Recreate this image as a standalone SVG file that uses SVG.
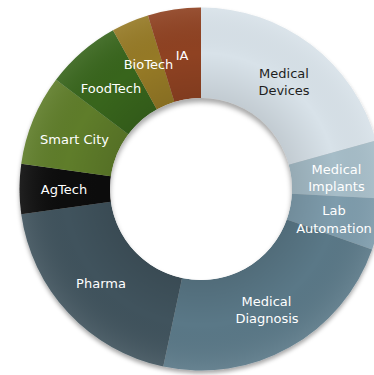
<svg xmlns="http://www.w3.org/2000/svg" width="374" height="375" viewBox="0 0 374 375">
<defs>
<style>
text{font-family:"DejaVu Sans","Liberation Sans",sans-serif;font-size:13px;text-anchor:middle;fill:#ffffff}
.dark{fill:#1e1e1e}
</style>
<filter id="drop" x="-10%" y="-10%" width="120%" height="125%">
<feDropShadow dx="0" dy="3" stdDeviation="2" flood-color="#000" flood-opacity="0.35"/>
</filter>
<filter id="blur"><feGaussianBlur stdDeviation="2.5"/></filter>
<clipPath id="hole"><circle cx="201" cy="189" r="91"/></clipPath>
<radialGradient id="shade" cx="201" cy="189" r="181.5" gradientUnits="userSpaceOnUse">
<stop offset="0.5" stop-color="#000" stop-opacity="0.10"/>
<stop offset="0.75" stop-color="#000" stop-opacity="0"/>
<stop offset="1" stop-color="#fff" stop-opacity="0.08"/>
</radialGradient>
</defs>
<rect width="374" height="375" fill="#ffffff"/>
<g filter="url(#drop)">
<path d="M201,7.5 A181.5,181.5 0 0 1 375.90,140.50 L288.69,164.68 A91,91 0 0 0 201,98 Z" fill="#d8e2e9"/>
<path d="M375.90,140.50 A181.5,181.5 0 0 1 382.25,198.50 L291.88,193.76 A91,91 0 0 0 288.69,164.68 Z" fill="#a6bdc8"/>
<path d="M382.25,198.50 A181.5,181.5 0 0 1 372.09,249.59 L286.78,219.38 A91,91 0 0 0 291.88,193.76 Z" fill="#7e9cac"/>
<path d="M372.09,249.59 A181.5,181.5 0 0 1 163.26,366.53 L182.08,278.01 A91,91 0 0 0 286.78,219.38 Z" fill="#5a7887"/>
<path d="M163.26,366.53 A181.5,181.5 0 0 1 21.27,214.26 L110.89,201.66 A91,91 0 0 0 182.08,278.01 Z" fill="#3f535d"/>
<path d="M21.27,214.26 A181.5,181.5 0 0 1 21.27,163.74 L110.89,176.34 A91,91 0 0 0 110.89,201.66 Z" fill="#111111"/>
<path d="M21.27,163.74 A181.5,181.5 0 0 1 56.05,79.77 L128.32,134.23 A91,91 0 0 0 110.89,176.34 Z" fill="#5e7d2a"/>
<path d="M56.05,79.77 A181.5,181.5 0 0 1 113.01,30.26 L156.88,109.41 A91,91 0 0 0 128.32,134.23 Z" fill="#37651f"/>
<path d="M113.01,30.26 A181.5,181.5 0 0 1 147.93,15.43 L174.39,101.98 A91,91 0 0 0 156.88,109.41 Z" fill="#967a26"/>
<path d="M147.93,15.43 A181.5,181.5 0 0 1 201,7.5 L201,98 A91,91 0 0 0 174.39,101.98 Z" fill="#8f4320"/>
</g>
<path d="M201,7.5 A181.5,181.5 0 1 1 200.99,7.5 Z M201,98 A91,91 0 1 0 201.01,98 Z" fill="url(#shade)" fill-rule="evenodd"/>
<circle cx="201" cy="189" r="91" fill="#ffffff"/>
<g clip-path="url(#hole)">
<circle cx="201" cy="193" r="95" fill="none" stroke="#000" stroke-opacity="0.35" stroke-width="8" filter="url(#blur)"/>
</g>
<g id="medical-devices"><text class="dark" x="284" y="77.5">Medical</text><text class="dark" x="284" y="95">Devices</text></g>
<g id="medical-implants"><text x="336.5" y="173.5">Medical</text><text x="336.5" y="191">Implants</text></g>
<g id="lab-automation"><text x="334" y="215">Lab</text><text x="334" y="232.5">Automation</text></g>
<g id="medical-diagnosis"><text x="266.5" y="306">Medical</text><text x="267" y="322.5">Diagnosis</text></g>
<g id="pharma"><text x="101" y="287.5">Pharma</text></g>
<g id="agtech"><text x="64" y="193.5">AgTech</text></g>
<g id="smart-city"><text x="74.5" y="143.5">Smart City</text></g>
<g id="foodtech"><text x="111" y="92.5">FoodTech</text></g>
<g id="biotech"><text x="148.5" y="69">BioTech</text></g>
<g id="ia"><text x="182" y="60">IA</text></g>
<g id="connectors"/>
</svg>
